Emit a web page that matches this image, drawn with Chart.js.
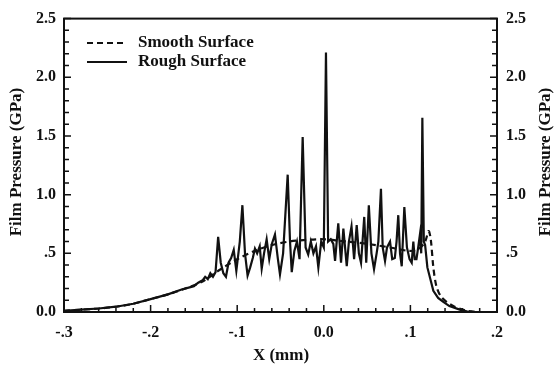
<!DOCTYPE html>
<html>
<head>
<meta charset="utf-8">
<script src="https://cdn.jsdelivr.net/npm/chart.js@4/dist/chart.umd.min.js"></script>
<style>
html,body{margin:0;padding:0;background:#fff;}
#wrap{width:557px;height:371px;position:relative;}
</style>
</head>
<body>
<div id="wrap"><canvas id="c" width="557" height="371"></canvas></div>
<script>
// ---- data ----
const smoothX = [-0.3,-0.28,-0.26,-0.24,-0.22,-0.2,-0.18,-0.16,-0.14,-0.12,-0.1,-0.08,-0.06,-0.04,-0.02,0,0.02,0.04,0.06,0.08,0.1,0.11,0.117,0.121,0.1235,0.1265,0.13,0.135,0.142,0.15,0.16,0.17,0.18];
const smoothY = [0.01,0.02,0.03,0.045,0.07,0.11,0.15,0.2,0.26,0.36,0.45,0.52,0.57,0.6,0.615,0.62,0.605,0.59,0.57,0.545,0.52,0.54,0.6,0.69,0.62,0.38,0.22,0.135,0.085,0.05,0.02,0.005,0];

const roughX = [-0.3,-0.28,-0.26,-0.24,-0.22,-0.2,-0.18,-0.165,-0.155,-0.15,-0.145,-0.14,-0.137,-0.134,-0.131,-0.128,-0.125,-0.122,-0.119,-0.116,-0.113,-0.11,-0.107,-0.104,-0.101,-0.097,-0.094,-0.091,-0.088,-0.085,-0.082,-0.0795,-0.077,-0.074,-0.0717,-0.069,-0.066,-0.063,-0.06,-0.0564,-0.053,-0.0506,-0.047,-0.0417,-0.039,-0.037,-0.034,-0.031,-0.028,-0.0244,-0.021,-0.018,-0.015,-0.012,-0.009,-0.0063,-0.003,0.0,0.0025,0.005,0.008,0.011,0.013,0.0167,0.0199,0.0226,0.0265,0.029,0.032,0.035,0.038,0.0405,0.043,0.0467,0.049,0.052,0.055,0.058,0.061,0.063,0.066,0.068,0.0707,0.073,0.0765,0.079,0.082,0.084,0.086,0.088,0.09,0.093,0.096,0.099,0.1015,0.1034,0.105,0.107,0.109,0.111,0.1125,0.1138,0.1155,0.117,0.1196,0.1265,0.132,0.138,0.145,0.157,0.165,0.175];
const roughY = [0.01,0.02,0.03,0.045,0.07,0.11,0.15,0.19,0.21,0.22,0.25,0.27,0.3,0.28,0.33,0.3,0.34,0.64,0.42,0.33,0.3,0.42,0.46,0.53,0.35,0.6,0.91,0.5,0.31,0.38,0.46,0.54,0.5,0.56,0.37,0.5,0.62,0.45,0.58,0.66,0.45,0.32,0.5,1.17,0.6,0.34,0.52,0.6,0.45,1.49,0.55,0.49,0.6,0.5,0.56,0.38,0.6,0.55,2.21,0.6,0.62,0.58,0.435,0.755,0.42,0.71,0.39,0.6,0.73,0.45,0.74,0.5,0.42,0.81,0.42,0.91,0.5,0.365,0.5,0.6,1.05,0.55,0.435,0.55,0.6,0.45,0.46,0.6,0.825,0.5,0.39,0.895,0.55,0.45,0.42,0.6,0.45,0.45,0.55,0.66,0.5,1.656,0.6,0.57,0.38,0.18,0.12,0.086,0.05,0.02,0.005,0];

const xTickLabels = {"-0.3":"-.3","-0.2":"-.2","-0.1":"-.1","0":"0.0","0.1":".1","0.2":".2"};
const yTickLabels = {"0":"0.0","0.5":".5","1":"1.0","1.5":"1.5","2":"2.0","2.5":"2.5"};
const seriesNames = ["Smooth Surface","Rough Surface"];
const yTitle = "Film Pressure (GPa)";
const xTitle = "X (mm)";

const toPts = (xs, ys) => xs.map((x, i) => ({x: x, y: ys[i]}));
const FONT = "'Liberation Serif', 'Times New Roman', serif";

function fmt(map, v) {
  const k = String(Math.round(v * 10) / 10);
  return map[k] !== undefined ? map[k] : '';
}

const framePlugin = {
  id: 'frame',
  afterDraw(chart) {
    const {ctx, chartArea: a, scales} = chart;
    ctx.save();
    ctx.strokeStyle = '#111';
    ctx.lineWidth = 2;
    ctx.strokeRect(a.left, a.top, a.right - a.left, a.bottom - a.top);
    ctx.lineWidth = 1.5;
    ctx.beginPath();
    for (let i = 0; i <= 25; i++) {
      const v = -0.3 + i * 0.02;
      const px = scales.x.getPixelForValue(v);
      const len = (i % 5 === 0) ? 7 : 4;
      ctx.moveTo(px, a.bottom);
      ctx.lineTo(px, a.bottom - len);
    }
    for (let i = 0; i <= 25; i++) {
      const v = i * 0.1;
      const py = scales.y.getPixelForValue(v);
      const len = (i % 5 === 0) ? 7 : 5;
      ctx.moveTo(a.left, py); ctx.lineTo(a.left + len, py);
      ctx.moveTo(a.right, py); ctx.lineTo(a.right - len, py);
    }
    ctx.stroke();

    // legend
    ctx.font = "bold 17px " + FONT;
    ctx.fillStyle = '#111';
    ctx.textBaseline = 'middle';
    ctx.textAlign = 'left';
    ctx.lineWidth = 2;
    ctx.setLineDash([6, 4]);
    ctx.beginPath(); ctx.moveTo(87, 43); ctx.lineTo(126, 43); ctx.stroke();
    ctx.setLineDash([]);
    ctx.beginPath(); ctx.moveTo(87, 62); ctx.lineTo(127, 62); ctx.stroke();
    ctx.fillText(seriesNames[0], 138, 43);
    ctx.fillText(seriesNames[1], 138, 62);

    // axis titles
    ctx.textAlign = 'center';
    ctx.save();
    ctx.translate(17, 162);
    ctx.rotate(-Math.PI / 2);
    ctx.fillText(yTitle, 0, 0);
    ctx.restore();
    ctx.save();
    ctx.translate(546, 162);
    ctx.rotate(-Math.PI / 2);
    ctx.fillText(yTitle, 0, 0);
    ctx.restore();
    ctx.fillText(xTitle, 281, 356);
    ctx.restore();
  }
};

new Chart(document.getElementById('c'), {
  type: 'line',
  data: {
    datasets: [
      {label: seriesNames[0], data: toPts(smoothX, smoothY), borderColor: '#111', borderWidth: 2.2, borderDash: [6, 4], pointRadius: 0, tension: 0.3, fill: false},
      {label: seriesNames[1], data: toPts(roughX, roughY), borderColor: '#111', borderWidth: 2.2, pointRadius: 0, tension: 0, fill: false, borderJoinStyle: 'miter'}
    ]
  },
  options: {
    responsive: false,
    animation: false,
    layout: {padding: {top: 13, left: 0, right: 0, bottom: 0}},
    plugins: {legend: {display: false}, tooltip: {enabled: false}},
    scales: {
      x: {
        type: 'linear', min: -0.3, max: 0.2,
        grid: {display: false, drawTicks: false},
        border: {display: false},
        ticks: {stepSize: 0.1, padding: 11, color: '#111', font: {family: FONT, size: 16, weight: 'bold'}, callback: v => fmt(xTickLabels, v), maxRotation: 0, autoSkip: false},
        afterFit: s => { s.height = 59; }
      },
      y: {
        type: 'linear', position: 'left', min: 0, max: 2.5,
        grid: {display: false, drawTicks: false},
        border: {display: false},
        ticks: {stepSize: 0.5, padding: 8, color: '#111', font: {family: FONT, size: 16, weight: 'bold'}, callback: v => fmt(yTickLabels, v)},
        afterFit: s => { s.width = 64; }
      },
      y2: {
        type: 'linear', position: 'right', min: 0, max: 2.5,
        grid: {display: false, drawTicks: false},
        border: {display: false},
        ticks: {stepSize: 0.5, padding: 9, color: '#111', font: {family: FONT, size: 16, weight: 'bold'}, callback: v => fmt(yTickLabels, v)},
        afterFit: s => { s.width = 60; }
      }
    }
  },
  plugins: [framePlugin]
});
</script>
</body>
</html>
